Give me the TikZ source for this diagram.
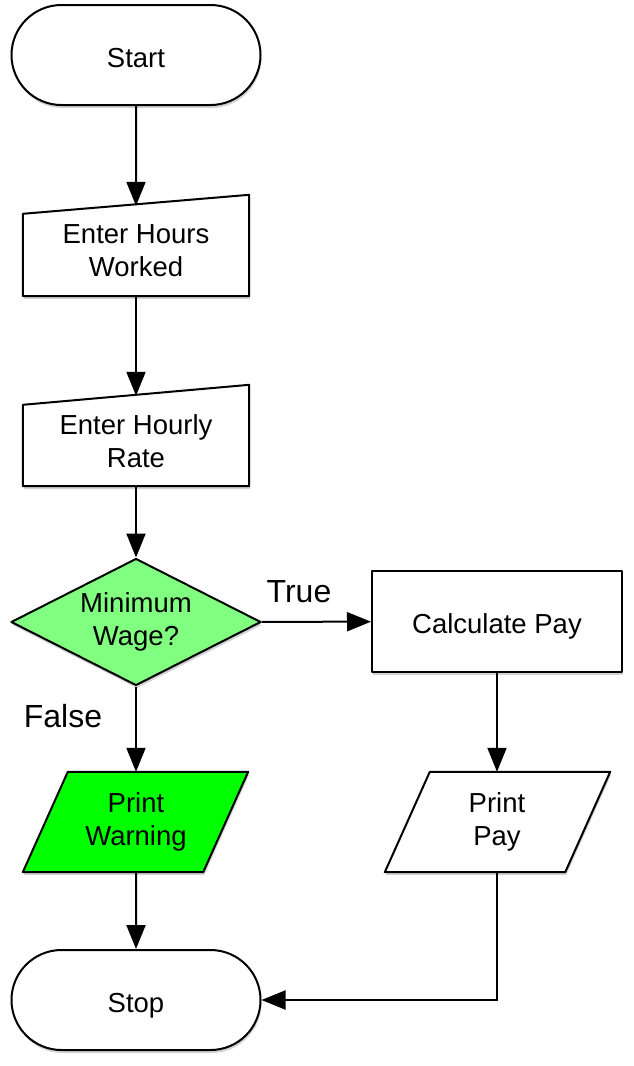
\documentclass[tikz,border=0pt]{standalone}
\usepackage{fontspec}
\setmainfont{Liberation Sans}
\usetikzlibrary{arrows.meta,shapes.geometric,shapes.misc,shadows,backgrounds}
\definecolor{lightgrn}{RGB}{128,255,128}
\definecolor{brightgrn}{RGB}{0,255,0}
\begin{document}
\begin{tikzpicture}[x=1pt,y=-1pt,
  every node/.style={font=\fontsize{27.5}{33}\selectfont, align=center},
  outline/.style={draw=black, line width=2pt, line join=round},
  shad/.style={drop shadow={shadow xshift=1pt,shadow yshift=-3pt,opacity=0.35}},
  oneline/.style={text height=24pt, text depth=0pt},
  term/.style={outline, shad, fill=white, rounded rectangle, minimum width=249pt, minimum height=100pt, inner sep=0pt, oneline},
  holder/.style={minimum width=#1, minimum height=90pt, inner sep=0pt},
  procbox/.style={outline, shad, fill=white, rectangle, minimum width=250pt, minimum height=101pt, inner sep=0pt, oneline},
  decbox/.style={outline, shad, fill=lightgrn, diamond, aspect=1.97, minimum width=250pt, minimum height=127pt, inner sep=0pt},
  arr/.style={line width=2pt, -{Triangle[length=24pt,width=19pt]}},
  lbl/.style={font=\fontsize{32}{38}\selectfont}]
\useasboundingbox (0,0) rectangle (633,1066);

\node[term] (start) at (136,55) {Start};
\node[holder=226pt] (hw) at (136,251) {Enter Hours\\Worked};
\node[holder=226pt] (hr) at (136,441) {Enter Hourly\\Rate};
\node[decbox] (dec) at (136,622) {Minimum\\Wage?};
\node[procbox] (calc) at (497,621.5) {Calculate Pay};
\node[holder=180pt, minimum height=100pt] (pw) at (136,822) {Print\\Warning};
\node[holder=180pt, minimum height=100pt] (pp) at (497,822) {Print\\Pay};
\node[term] (stop) at (136,1000) {Stop};
\node[lbl] (tlab) at (299,592) {True};
\node[lbl] (flab) at (63,716) {False};

\begin{scope}[on background layer]
  \draw[outline, shad, fill=white] (hw.south west) -- (hw.south east)
    -- ([yshift=11pt]hw.north east) -- ([yshift=-8pt]hw.north west) -- cycle;
  \draw[outline, shad, fill=white] (hr.south west) -- (hr.south east)
    -- ([yshift=11pt]hr.north east) -- ([yshift=-9pt]hr.north west) -- cycle;
  \draw[outline, shad, fill=brightgrn] ([xshift=-23pt]pw.south west) -- ([xshift=-23pt]pw.south east)
    -- ([xshift=22pt]pw.north east) -- ([xshift=22pt]pw.north west) -- cycle;
  \draw[outline, shad, fill=white] ([xshift=-22pt]pp.south west) -- ([xshift=-22pt]pp.south east)
    -- ([xshift=23pt]pp.north east) -- ([xshift=23pt]pp.north west) -- cycle;
\end{scope}

\draw[arr] (start) -- (hw.north);
\draw[arr] (hw.south) -- (hr.north);
\draw[arr] (hr.south) -- (dec);
\draw[arr] (dec) -- (calc);
\draw[arr] (dec) -- (pw.north);
\draw[arr] (calc) -- (pp.north);
\draw[arr] (pw.south) -- (stop);
\draw[arr] (pp.south) |- (stop.east);
\end{tikzpicture}
\end{document}
